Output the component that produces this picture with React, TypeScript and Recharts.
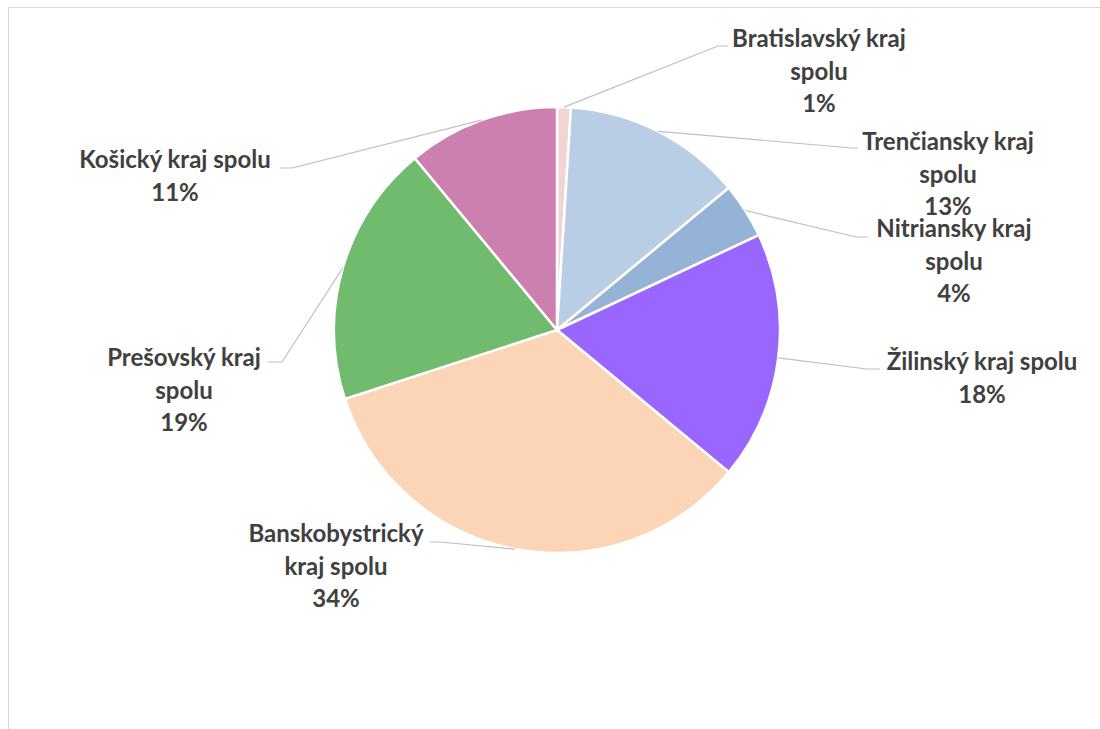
import React from "react";
import { PieChart, Pie, Cell } from "recharts";

// podiel krajov (v %)
const regions = [
  "Bratislavský kraj spolu",
  "Trenčiansky kraj spolu",
  "Nitriansky kraj spolu",
  "Žilinský kraj spolu",
  "Banskobystrický kraj spolu",
  "Prešovský kraj spolu",
  "Košický kraj spolu",
];
const shares = [1, 13, 4, 18, 34, 19, 11];
const colors = ["#F2D5D2", "#B9CDE5", "#95B3D7", "#9966FF", "#FBD5B5", "#71BB6F", "#CC80B0"];

// rozloženie popisov (zalomenie riadkov, poloha textu, lom čiary)
const labelLines = [
  ["Bratislavský kraj", "spolu"],
  ["Trenčiansky kraj", "spolu"],
  ["Nitriansky kraj", "spolu"],
  ["Žilinský kraj spolu"],
  ["Banskobystrický", "kraj spolu"],
  ["Prešovský kraj", "spolu"],
  ["Košický kraj spolu"],
];
const labelAt = [
  { x: 819, y: 47, ex: 718, ey: 46, hx: 728 },
  { x: 948, y: 150, ex: 852, ey: 148, hx: 858 },
  { x: 954, y: 237, ex: 856, ey: 237, hx: 868 },
  { x: 982, y: 370, ex: 867, ey: 369, hx: 880 },
  { x: 336, y: 542, ex: 440, ey: 542, hx: 430 },
  { x: 184, y: 366, ex: 282, ey: 362, hx: 268 },
  { x: 175, y: 168, ex: 292, ey: 168, hx: 280 },
];

const data = regions.map((name, i) => ({ name, value: shares[i] }));
const RAD = Math.PI / 180;
const LH = 32.5;

function renderLabel(props: any) {
  const { cx, cy, midAngle, outerRadius, index, percent } = props;
  const pos = labelAt[index];
  const sx = cx + outerRadius * Math.cos(-midAngle * RAD);
  const sy = cy + outerRadius * Math.sin(-midAngle * RAD);
  const lines = [...labelLines[index], `${Math.round(percent * 100)}%`];
  return (
    <g key={`lbl-${index}`}>
      <polyline
        points={`${sx},${sy} ${pos.ex},${pos.ey} ${pos.hx},${pos.ey}`}
        fill="none"
        stroke="#BFBFBF"
        strokeWidth={1.2}
      />
      <text
        x={pos.x}
        y={pos.y}
        textAnchor="middle"
        fill="#404040"
        style={{ fontFamily: "Lato, 'Noto Sans', sans-serif", fontWeight: 700, fontSize: 24 }}
      >
        {lines.map((l, k) => (
          <tspan key={k} x={pos.x} y={pos.y + k * LH}>
            {l}
          </tspan>
        ))}
      </text>
    </g>
  );
}

export default function App() {
  return (
    <div
      style={{
        position: "fixed",
        left: 0,
        top: 0,
        width: 1100,
        height: 729,
        overflow: "hidden",
        background: "#fff",
      }}
    >
      <div
        style={{
          position: "absolute",
          left: 8,
          top: 7,
          width: 1120,
          height: 760,
          border: "1.5px solid #D9D9D9",
          boxSizing: "border-box",
        }}
      />
      <div style={{ position: "absolute", left: 0, top: 0 }}>
        <PieChart width={1100} height={729} margin={{ top: 0, right: 0, bottom: 0, left: 0 }}>
          <Pie
            data={data}
            dataKey="value"
            nameKey="name"
            cx={557}
            cy={330}
            outerRadius={223}
            startAngle={90}
            endAngle={-270}
            stroke="#FFFFFF"
            strokeWidth={2.5}
            label={renderLabel}
            labelLine={false}
            isAnimationActive={false}
          >
            {data.map((d, i) => (
              <Cell key={d.name} fill={colors[i]} />
            ))}
          </Pie>
        </PieChart>
      </div>
    </div>
  );
}
